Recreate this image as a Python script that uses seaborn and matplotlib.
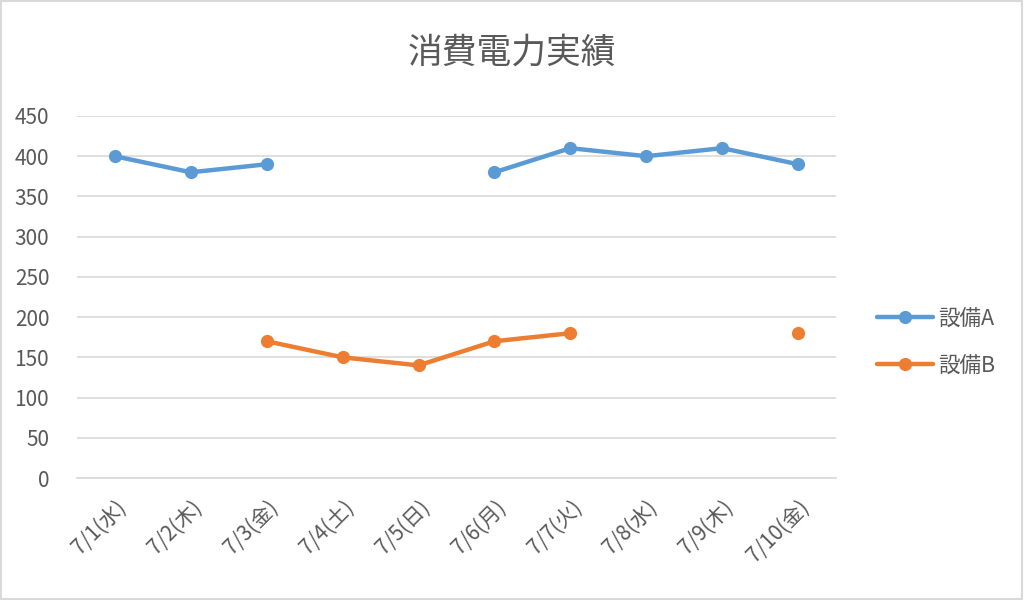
import numpy as np
import pandas as pd
import matplotlib.pyplot as plt
import seaborn as sns

sns.set_theme(style="white")
plt.rcParams['font.family'] = ['Noto Sans CJK JP', 'DejaVu Sans']

# --- データ ---
dates = ["7/1(水)", "7/2(木)", "7/3(金)", "7/4(土)", "7/5(日)",
         "7/6(月)", "7/7(火)", "7/8(水)", "7/9(木)", "7/10(金)"]
equip_a = [400, 380, 390, np.nan, np.nan, 380, 410, 400, 410, 390]
equip_b = [np.nan, np.nan, 170, 150, 140, 170, 180, np.nan, np.nan, 180]
series_names = ["設備A", "設備B"]
COLORS = ["#5B9BD5", "#ED7D31"]
TXT = "#595959"
GRID = "#D9D9D9"


def to_segments(name, values):
    # 欠損で線を切るためにセグメント番号を振る
    rows, seg = [], 0
    for i, v in enumerate(values):
        if np.isnan(v):
            seg += 1
            continue
        rows.append({"x": i, "y": v, "series": name, "seg": f"{name}_{seg}"})
    return rows


df = pd.DataFrame(to_segments(series_names[0], equip_a) + to_segments(series_names[1], equip_b))

fig = plt.figure(figsize=(10.24, 6.0), dpi=100)
ax = fig.add_axes([0.0752, 0.2033, 0.7412, 0.6034])

sns.lineplot(data=df, x="x", y="y", hue="series", units="seg", estimator=None,
             palette=COLORS, marker="o", markersize=9.5, markeredgewidth=0,
             linewidth=3.2, ax=ax, legend=False, sort=True)

ax.set_xlim(-0.5, len(dates) - 0.5)
ax.set_ylim(0, 450)
ax.set_yticks(range(0, 451, 50))
ax.yaxis.grid(True, color=GRID, linewidth=1.2)
ax.set_xlabel("")
ax.set_ylabel("")

ax.set_xticks(range(len(dates)))
ax.set_xticklabels(dates, rotation=45, ha="right", rotation_mode="anchor")
ax.set_xticks(np.arange(-0.5, len(dates), 1.0), minor=True)
ax.tick_params(axis="x", which="major", length=0, pad=13, labelsize=15, labelcolor=TXT)
ax.tick_params(axis="x", which="minor", length=6, width=1.2, color=GRID, direction="out")
ax.tick_params(axis="y", length=0, pad=20, labelsize=15, labelcolor=TXT)

for side in ["top", "right", "left"]:
    ax.spines[side].set_visible(False)
ax.spines["bottom"].set_color(GRID)
ax.spines["bottom"].set_linewidth(1.2)

# 凡例
handles = [plt.Line2D([], [], color=c, marker="o", markersize=9.5, markeredgewidth=0, linewidth=3.2)
           for c in COLORS]
fig.legend(handles, series_names, loc="center left", bbox_to_anchor=(0.838, 0.43),
           frameon=False, fontsize=15.5, labelcolor=TXT, handlelength=2.6,
           handletextpad=0.2, labelspacing=1.15)

fig.suptitle("消費電力実績", x=0.5, y=0.94, fontsize=25, color=TXT)

fig.patches.append(plt.Rectangle((0.001, 0.002), 0.997, 0.996, transform=fig.transFigure,
                                 fill=False, edgecolor=GRID, linewidth=1.5))

fig.savefig("out.png", dpi=100, facecolor="white")
